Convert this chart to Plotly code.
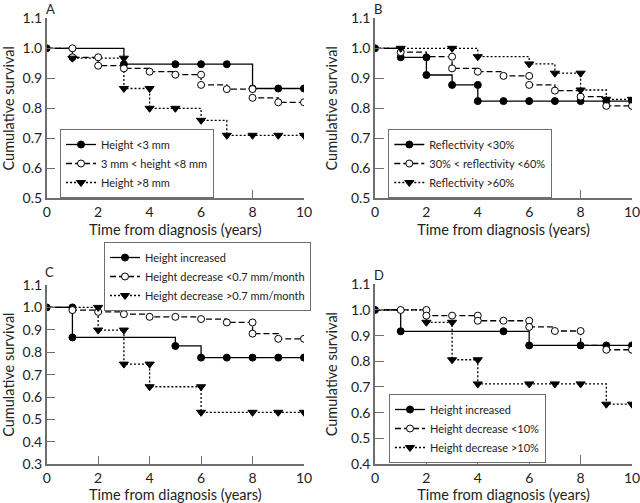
import plotly.graph_objects as go

FONT = "Lato"
AX_COLOR = "#6e6e6e"

# ---------------- Panel A ----------------
a_names = ["Height <3 mm", "3 mm < height <8 mm", "Height >8 mm"]
a1_t = [0, 3, 8, 10]
a1_s = [1.0, 0.947, 0.866, 0.866]
a1_mt = [0, 3, 5, 6, 7, 8, 9, 10]
a1_ms = [1.0, 0.947, 0.947, 0.947, 0.947, 0.866, 0.866, 0.866]
a2_t = [0, 1, 2, 3, 4, 5, 6, 7, 8, 9, 10]
a2_s = [1.0, 0.97, 0.942, 0.933, 0.922, 0.912, 0.878, 0.864, 0.835, 0.82, 0.82]
a2_mt = [1, 1, 2, 2, 3, 4, 5, 6, 6, 7, 8, 8, 9, 10]
a2_ms = [1.0, 0.97, 0.97, 0.942, 0.933, 0.922, 0.912, 0.912, 0.878, 0.864, 0.864, 0.835, 0.82, 0.82]
a3_t = [0, 1, 3, 4, 6, 7, 10]
a3_s = [1.0, 0.967, 0.866, 0.80, 0.76, 0.71, 0.71]
a3_mt = [1, 3, 3, 4, 4, 5, 6, 7, 8, 9, 10]
a3_ms = [0.967, 0.967, 0.866, 0.866, 0.80, 0.80, 0.76, 0.71, 0.71, 0.71, 0.71]

# ---------------- Panel B ----------------
b_names = ["Reflectivity <30%", "30% < reflectivity <60%", "Reflectivity >60%"]
b1_t = [0, 1, 2, 3, 4, 10]
b1_s = [1.0, 0.97, 0.911, 0.878, 0.824, 0.824]
b1_mt = [0, 1, 2, 2, 3, 4, 4, 5, 6, 7, 8, 9, 10]
b1_ms = [1.0, 0.97, 0.97, 0.911, 0.878, 0.878, 0.824, 0.824, 0.824, 0.824, 0.824, 0.824, 0.824]
b2_t = [0, 1, 2, 3, 4, 5, 6, 7, 8, 9, 10]
b2_s = [1.0, 0.987, 0.972, 0.933, 0.922, 0.908, 0.878, 0.859, 0.839, 0.808, 0.808]
b2_mt = [1, 3, 3, 4, 5, 6, 6, 7, 8, 9, 10]
b2_ms = [0.987, 0.972, 0.933, 0.922, 0.908, 0.908, 0.878, 0.859, 0.839, 0.808, 0.808]
b3_t = [0, 4, 6, 7, 8, 9, 10]
b3_s = [1.0, 0.972, 0.948, 0.917, 0.861, 0.83, 0.83]
b3_mt = [1, 3, 4, 6, 7, 8, 8, 9, 10]
b3_ms = [1.0, 1.0, 0.972, 0.948, 0.917, 0.917, 0.861, 0.83, 0.83]

# ---------------- Panel C ----------------
c_names = ["Height increased", "Height decrease <0.7 mm/month", "Height decrease >0.7 mm/month"]
c1_t = [0, 1, 5, 6, 10]
c1_s = [1.0, 0.866, 0.828, 0.776, 0.776]
c1_mt = [0, 1, 1, 5, 6, 7, 8, 9, 10]
c1_ms = [1.0, 1.0, 0.866, 0.828, 0.776, 0.776, 0.776, 0.776, 0.776]
c2_t = [0, 1, 2, 3, 4, 6, 7, 8, 9, 10]
c2_s = [1.0, 0.988, 0.98, 0.97, 0.958, 0.948, 0.933, 0.883, 0.86, 0.86]
c2_mt = [1, 2, 3, 4, 5, 6, 7, 8, 8, 9, 10]
c2_ms = [0.988, 0.98, 0.97, 0.958, 0.958, 0.948, 0.933, 0.933, 0.883, 0.86, 0.86]
c3_t = [0, 2, 3, 4, 6, 10]
c3_s = [1.0, 0.899, 0.747, 0.646, 0.532, 0.532]
c3_mt = [2, 2, 3, 3, 4, 4, 6, 6, 8, 9, 10]
c3_ms = [1.0, 0.899, 0.899, 0.747, 0.747, 0.646, 0.646, 0.532, 0.532, 0.532, 0.532]

# ---------------- Panel D ----------------
d_names = ["Height increased", "Height decrease <10%", "Height decrease >10%"]
d1_t = [0, 1, 6, 10]
d1_s = [1.0, 0.917, 0.862, 0.862]
d1_mt = [0, 1, 5, 6, 8, 9, 10]
d1_ms = [1.0, 0.917, 0.917, 0.862, 0.862, 0.862, 0.862]
d2_t = [0, 2, 4, 6, 7, 8, 9, 10]
d2_s = [1.0, 0.978, 0.958, 0.934, 0.918, 0.862, 0.845, 0.845]
d2_mt = [1, 2, 2, 3, 4, 4, 5, 6, 6, 7, 8, 9, 10]
d2_ms = [1.0, 1.0, 0.978, 0.978, 0.978, 0.958, 0.958, 0.958, 0.934, 0.918, 0.918, 0.845, 0.845]
d3_t = [0, 2, 3, 4, 9, 10]
d3_s = [1.0, 0.952, 0.806, 0.712, 0.633, 0.633]
d3_mt = [2, 3, 3, 4, 4, 6, 7, 8, 9, 10]
d3_ms = [0.952, 0.952, 0.806, 0.806, 0.712, 0.712, 0.712, 0.712, 0.633, 0.633]

x_ticks = [0, 2, 4, 6, 8, 10]
x_title = "Time from diagnosis (years)"
y_title = "Cumulative survival"
panel_letters = ["A", "B", "C", "D"]

STYLES = [
    dict(dash="solid", symbol="circle", fill="black"),
    dict(dash="6px,3px", symbol="circle", fill="white"),
    dict(dash="2px,2px", symbol="triangle-down", fill="black"),
]

panels = [
    (a_names, [(a1_t, a1_s, a1_mt, a1_ms), (a2_t, a2_s, a2_mt, a2_ms), (a3_t, a3_s, a3_mt, a3_ms)]),
    (b_names, [(b1_t, b1_s, b1_mt, b1_ms), (b2_t, b2_s, b2_mt, b2_ms), (b3_t, b3_s, b3_mt, b3_ms)]),
    (c_names, [(c1_t, c1_s, c1_mt, c1_ms), (c2_t, c2_s, c2_mt, c2_ms), (c3_t, c3_s, c3_mt, c3_ms)]),
    (d_names, [(d1_t, d1_s, d1_mt, d1_ms), (d2_t, d2_s, d2_mt, d2_ms), (d3_t, d3_s, d3_mt, d3_ms)]),
]

W, H = 640, 503
def px(x):
    return x / W
def py(y):
    return 1 - y / H

x_domains = [[px(46.7), px(304)], [px(375), px(632)], [px(46.7), px(304)], [px(375), px(632)]]
y_domains = [[py(198.3), py(18.3)], [py(198.3), py(18.3)], [py(464.3), py(285)], [py(464), py(284.3)]]
y_ranges = [[0.5, 1.1], [0.5, 1.1], [0.3, 1.1], [0.4, 1.1]]
legend_pos = [(px(60), py(129)), (px(388.3), py(129)), (px(104), py(242)), (px(389), py(394))]
letter_pos = [(px(50), py(0.5)), (px(378), py(0.5)), (px(49), py(263)), (px(379), py(266))]

fig = go.Figure()
legend_keys = ["legend", "legend2", "legend3", "legend4"]

for i, (names, series) in enumerate(panels):
    xa = "x" if i == 0 else f"x{i+1}"
    ya = "y" if i == 0 else f"y{i+1}"
    for j, (t, s, mt, ms) in enumerate(series):
        st = STYLES[j]
        fig.add_trace(go.Scatter(x=t, y=s, mode="lines", line_shape="hv",
                                 line=dict(color="black", width=1.3, dash=st["dash"]),
                                 xaxis=xa, yaxis=ya, showlegend=False, hoverinfo="skip"))
    for j, (t, s, mt, ms) in enumerate(series):
        st = STYLES[j]
        mk = dict(symbol=st["symbol"], size=7 if j < 2 else 8, color=st["fill"],
                  line=dict(color="black", width=1))
        fig.add_trace(go.Scatter(x=mt, y=ms, mode="markers", marker=mk,
                                 xaxis=xa, yaxis=ya, showlegend=False, hoverinfo="skip"))
        fig.add_trace(go.Scatter(x=[None], y=[None], mode="lines+markers", name=names[j],
                                 marker=mk, line=dict(color="black", width=1.3, dash=st["dash"]),
                                 xaxis=xa, yaxis=ya, legend=legend_keys[i]))

layout = dict(
    template="none",
    width=W, height=H, paper_bgcolor="white", plot_bgcolor="white",
    margin=dict(l=0, r=0, t=0, b=0, autoexpand=False),
    font=dict(family=FONT, size=14, color="#222"),
    showlegend=True,
)
for i in range(4):
    xk = "xaxis" if i == 0 else f"xaxis{i+1}"
    yk = "yaxis" if i == 0 else f"yaxis{i+1}"
    xa = "x" if i == 0 else f"x{i+1}"
    ya = "y" if i == 0 else f"y{i+1}"
    layout[xk] = dict(domain=x_domains[i], range=[0, 10], anchor=ya, tickvals=x_ticks,
                      showline=True, linecolor=AX_COLOR, linewidth=1.5, ticks="inside",
                      ticklen=9, tickcolor=AX_COLOR, tickwidth=1.2, showgrid=False, zeroline=False,
                      automargin=False, ticklabeloverflow="allow",
                      tickfont=dict(size=14, color="#222"),
                      title=dict(text=x_title, font=dict(size=14.5, color="#222"), standoff=6))
    yr = y_ranges[i]
    yt = [round(yr[0] + 0.1 * k, 1) for k in range(int(round((yr[1] - yr[0]) / 0.1)) + 1)]
    layout[yk] = dict(domain=y_domains[i], range=yr, anchor=xa, tickvals=yt, tickformat=".1f",
                      showline=True, linecolor=AX_COLOR, linewidth=1.5, ticks="inside",
                      ticklen=9, tickcolor=AX_COLOR, tickwidth=1.2, showgrid=False, zeroline=False,
                      automargin=False, ticklabeloverflow="allow",
                      tickfont=dict(size=14, color="#222"),
                      title=dict(text=y_title, font=dict(size=14.5, color="#222"), standoff=10))
    lk = legend_keys[i]
    layout[lk] = dict(x=legend_pos[i][0], y=legend_pos[i][1], xanchor="left", yanchor="top",
                      bgcolor="white", bordercolor=AX_COLOR, borderwidth=1,
                      font=dict(size=11, color="#222"), itemwidth=30, tracegroupgap=0)

fig.update_layout(**layout)
for i, L in enumerate(panel_letters):
    fig.add_annotation(text=L, x=letter_pos[i][0], y=letter_pos[i][1], xref="paper", yref="paper",
                       showarrow=False, font=dict(size=13, color="#222"), xanchor="center", yanchor="top",
                       borderpad=0)

fig.write_html("out.html", config={"displayModeBar": False},
               post_script="document.body.style.margin='0';document.body.style.overflow='hidden';")
